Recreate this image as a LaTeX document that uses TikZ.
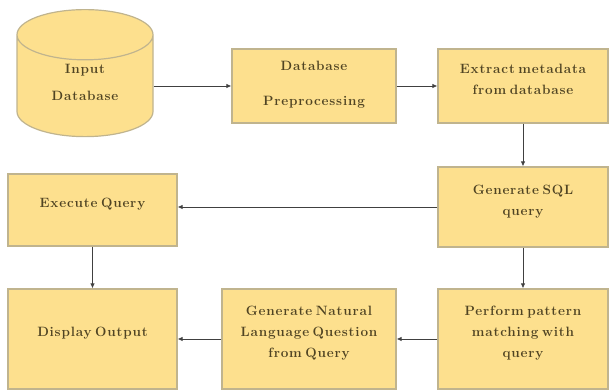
\documentclass[tikz,border=0pt]{standalone}
\usepackage{fontspec}
\newfontfamily\policeBoite{Latin Modern Roman}[LetterSpace=6, WordSpace=0.6]
\usepackage{tikz}
\usepackage{xcolor}
\usetikzlibrary{arrows.meta, positioning, shapes.geometric}
\definecolor{jauneBoite}{RGB}{253,224,142}
\definecolor{bordBoite}{RGB}{192,180,142}
\definecolor{texteBoite}{RGB}{80,68,35}

\begin{document}
\begin{tikzpicture}[
		x=1pt, y=1pt,
		% Styles des boites
		boite/.style={draw=bordBoite, fill=jauneBoite, line width=1.2pt, align=center, text=texteBoite, font=\policeBoite\fontsize{13.5}{21}\selectfont\bfseries, inner sep=2pt, text depth=14pt},
		baseDonnees/.style={boite, cylinder, shape border rotate=90, aspect=0.71, text depth=14pt},
		fleche/.style={-{Latex[length=5pt, width=4.5pt]}, line width=0.8pt, black!75},
		]
		
		\useasboundingbox (0,0) rectangle (610,390);
		
		% Ligne du haut
		\node[baseDonnees, minimum width=136, minimum height=127] (base) at (85, 301) {Input\\[6pt]Database};
		\node[boite, minimum width=164, minimum height=74, text depth=6pt] (pretrait) at (314, 304) {Database\\[14pt]Preprocessing};
		\node[boite, minimum width=170, minimum height=74] (meta) at (523, 304) {Extract metadata\\from database};
		
		% Ligne du milieu
		\node[boite, minimum width=170, minimum height=80] (sql) at (523, 183) {Generate SQL\\query};
		\node[boite, minimum width=169, minimum height=72] (execution) at (92.5, 180) {Execute Query};
		
		% Ligne du bas
		\node[boite, minimum width=169, minimum height=100] (affichage) at (92.5, 51) {Display Output};
		\node[boite, minimum width=174, minimum height=100] (question) at (309, 51) {Generate Natural\\Language Question\\from Query};
		\node[boite, minimum width=170, minimum height=100] (motif) at (523, 51) {Perform pattern\\matching with\\query};
		
		
		\draw[fleche] (base.east |- pretrait.west) -- (pretrait.west);
		\draw[fleche] (pretrait) -- (meta);
		\draw[fleche] (meta) -- (sql);
		\draw[fleche] (sql.west) -- (sql.west -| execution.east);
		\draw[fleche] (execution) -- (affichage);
		\draw[fleche] (sql) -- (motif);
		\draw[fleche] (motif) -- (question);
		\draw[fleche] (question) -- (affichage);
\end{tikzpicture}
\end{document}
